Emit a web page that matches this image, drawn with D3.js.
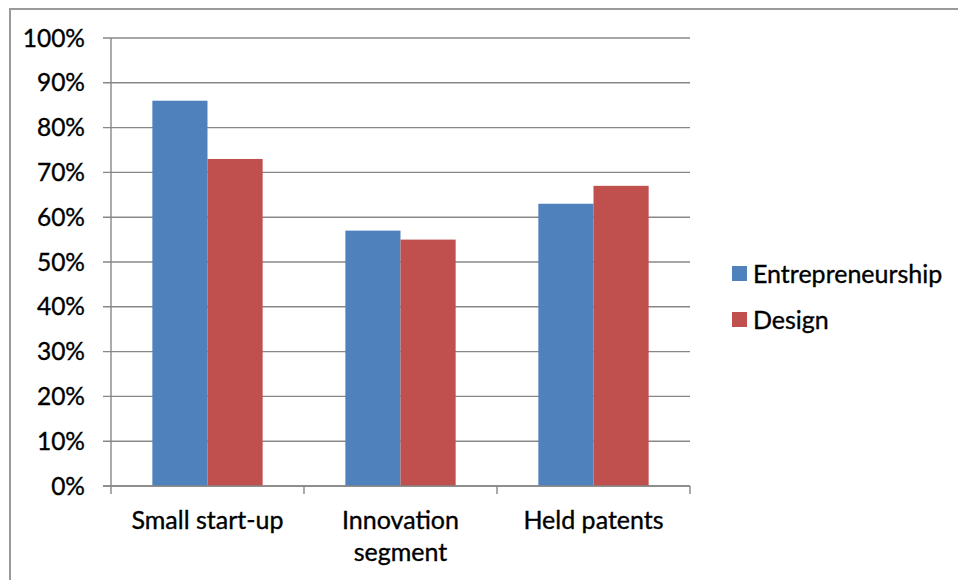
<!DOCTYPE html>
<html>
<head>
<meta charset="utf-8">
<script src="https://cdn.jsdelivr.net/npm/d3@7"></script>
<style>
    body { margin: 0; background: #fff; }
    svg text { font-family: Lato, "Open Sans", sans-serif; fill: #000; stroke: #000; stroke-width: 0.35px; }
</style>
</head>
<body>
<div id="chart-container"></div>
<script>
// categories and series
const categories = ["Small start-up", "Innovation segment", "Held patents"];
const seriesNames = ["Entrepreneurship", "Design"];
const entrepreneurship = [0.86, 0.57, 0.63];
const design = [0.73, 0.55, 0.67];
const yTicks = [0, 0.1, 0.2, 0.3, 0.4, 0.5, 0.6, 0.7, 0.8, 0.9, 1.0];

const colors = ["#4F81BD", "#C0504D"];

function createChart() {
    const W = 958, H = 580;
    const margin = { top: 38, left: 111, right: 268, bottom: 94 };
    const width = W - margin.left - margin.right;
    const height = H - margin.top - margin.bottom;

    const svg = d3.select("#chart-container").append("svg")
        .attr("width", W)
        .attr("height", H);

    // outer chart border (runs off the right and bottom edges)
    svg.append("rect")
        .attr("x", 10).attr("y", 9)
        .attr("width", W).attr("height", H)
        .attr("fill", "none")
        .attr("stroke", "#9a9a9a")
        .attr("stroke-width", 2);

    const g = svg.append("g")
        .attr("transform", "translate(" + margin.left + "," + margin.top + ")");

    const x = d3.scaleBand().domain(categories).range([0, width]);
    const y = d3.scaleLinear().domain([0, 1]).range([height, 0]);

    // gridlines
    g.selectAll(".grid").data(yTicks).enter().append("line")
        .attr("class", "grid")
        .attr("x1", -8).attr("x2", width)
        .attr("y1", d => y(d)).attr("y2", d => y(d))
        .attr("stroke", "#878787")
        .attr("stroke-width", 1.4);

    // y tick labels
    g.selectAll(".ylab").data(yTicks).enter().append("text")
        .attr("class", "ylab")
        .attr("x", -26)
        .attr("y", d => y(d))
        .attr("dy", "0.35em")
        .attr("text-anchor", "end")
        .attr("font-size", "24.5px")
        .text(d => d3.format(".0%")(d));

    // bars, Excel style: gap width 150% of one bar
    const barW = x.bandwidth() / (2 + 1.5);
    const data = [entrepreneurship, design];
    data.forEach((vals, si) => {
        g.selectAll(".bar" + si).data(categories).enter().append("rect")
            .attr("class", "bar" + si)
            .attr("x", (d, i) => x(d) + barW * 0.75 + si * barW)
            .attr("y", (d, i) => y(vals[i]))
            .attr("width", barW)
            .attr("height", (d, i) => height - y(vals[i]))
            .attr("fill", colors[si]);
    });

    // y axis line
    g.append("line")
        .attr("x1", 0).attr("x2", 0)
        .attr("y1", 0).attr("y2", height)
        .attr("stroke", "#878787").attr("stroke-width", 1.4);

    // x axis line + category ticks
    g.append("line")
        .attr("x1", -8).attr("x2", width)
        .attr("y1", height).attr("y2", height)
        .attr("stroke", "#878787").attr("stroke-width", 1.4);
    const bounds = categories.map(c => x(c)).concat([width]);
    g.selectAll(".xtick").data(bounds).enter().append("line")
        .attr("x1", d => d).attr("x2", d => d)
        .attr("y1", height).attr("y2", height + 8)
        .attr("stroke", "#878787").attr("stroke-width", 1.4);

    // category labels, wrapped like the original
    const labelLines = { "Innovation segment": ["Innovation", "segment"] };
    categories.forEach(c => {
        const lines = labelLines[c] || [c];
        const t = g.append("text")
            .attr("text-anchor", "middle")
            .attr("font-size", "25px")
            .attr("x", x(c) + x.bandwidth() / 2)
            .attr("y", height + 43);
        lines.forEach((ln, i) => {
            t.append("tspan")
                .attr("x", x(c) + x.bandwidth() / 2)
                .attr("dy", i === 0 ? 0 : 32)
                .text(ln);
        });
    });

    // legend
    const legend = svg.append("g").attr("transform", "translate(732,266)");
    seriesNames.forEach((name, i) => {
        const row = legend.append("g").attr("transform", "translate(0," + (i * 46) + ")");
        row.append("rect")
            .attr("width", 15).attr("height", 15)
            .attr("fill", colors[i]);
        row.append("text")
            .attr("x", 21).attr("y", 8)
            .attr("dy", "0.35em")
            .attr("font-size", "25px")
            .text(name);
    });
}

document.addEventListener("DOMContentLoaded", () => {
    createChart();
});
</script>
</body>
</html>
